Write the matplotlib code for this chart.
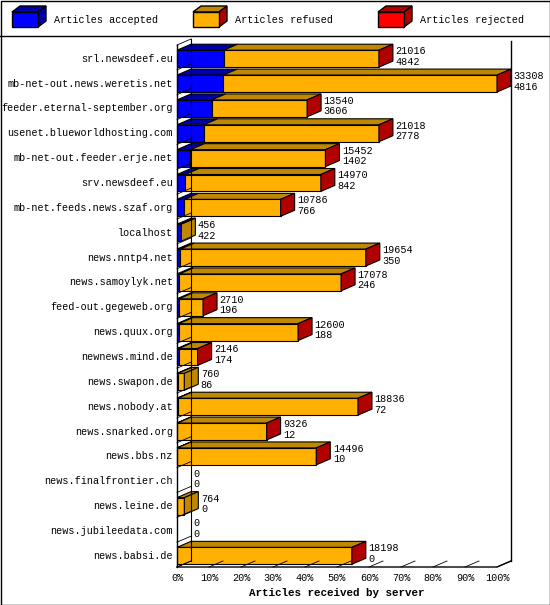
import matplotlib
matplotlib.use("Agg")
import matplotlib.pyplot as plt
from matplotlib.patches import Polygon, Rectangle

servers = ["srl.newsdeef.eu", "mb-net-out.news.weretis.net", "feeder.eternal-september.org",
           "usenet.blueworldhosting.com", "mb-net-out.feeder.erje.net", "srv.newsdeef.eu",
           "mb-net.feeds.news.szaf.org", "localhost", "news.nntp4.net", "news.samoylyk.net",
           "feed-out.gegeweb.org", "news.quux.org", "newnews.mind.de", "news.swapon.de",
           "news.nobody.at", "news.snarked.org", "news.bbs.nz", "news.finalfrontier.ch",
           "news.leine.de", "news.jubileedata.com", "news.babsi.de"]
offered = [21016, 33308, 13540, 21018, 15452, 14970, 10786, 456, 19654, 17078,
           2710, 12600, 2146, 760, 18836, 9326, 14496, 0, 764, 0, 18198]
accepted = [4842, 4816, 3606, 2778, 1402, 842, 766, 422, 350, 246,
            196, 188, 174, 86, 72, 12, 10, 0, 0, 0, 0]
has_rejected = [1, 1, 1, 1, 1, 1, 1, 0, 1, 1, 1, 1, 1, 0, 1, 1, 1, 0, 0, 0, 1]
ticks = list(range(0, 101, 10))

W, H = 550, 605
fig = plt.figure(figsize=(W / 100, H / 100), dpi=100)
fig.patch.set_facecolor("white")
mono = "Liberation Mono"
fs = 7.3

# frame and legend
bg = fig.add_axes([0, 0, 1, 1])
bg.set_xlim(0, W); bg.set_ylim(H, 0); bg.axis("off")
bg.add_patch(Rectangle((0.5, 0.5), W - 1, H - 1, fill=False, lw=1, color="black"))
bg.plot([0, W], [36, 36], color="black", lw=1)

colors = {"acc": ("#0000ff", "#0000a8"), "ref": ("#ffb000", "#c08800"), "rej": ("#ff0000", "#b00000")}
legend = [("acc", "Articles accepted", 12), ("ref", "Articles refused", 193), ("rej", "Articles rejected", 378)]
for key, txt, lx in legend:
    face, dark = colors[key]
    bx, by, bw, bh, d, e = lx, 12, 26, 15, 8, 6
    bg.add_patch(Polygon([(bx, by), (bx + bw, by), (bx + bw + d, by - e), (bx + d, by - e)],
                         fc=dark, ec="black", lw=1))
    bg.add_patch(Polygon([(bx + bw, by), (bx + bw + d, by - e), (bx + bw + d, by + bh - e), (bx + bw, by + bh)],
                         fc="#b00000" if key != "acc" else dark, ec="black", lw=1))
    bg.add_patch(Rectangle((bx, by), bw, bh, fc=face, ec="black", lw=1))
    bg.text(lx + 42, 20, txt, family=mono, fontsize=fs, va="center")

ax = fig.add_axes([177 / W, (H - 567) / H, 320 / W, 522 / H])
n = len(servers)
ax.set_xlim(0, 100)
ax.set_ylim(n - 0.5, -0.5)
ax.axis("off")
dx = 14 / 320 * 100
dy = 6 / (522 / n)

# walls
ax.plot([0, 0], [-0.5, n - 0.5], color="black", lw=1, clip_on=False)
ax.plot([dx, dx], [-0.5 - dy, n - 0.5 - dy], color="black", lw=0.8, clip_on=False)
ax.plot([100 + dx, 100 + dx], [-0.5 - 0.15, n - 0.5 - dy], color="black", lw=1, clip_on=False)
ax.plot([0, 100, 100 + dx], [n - 0.5, n - 0.5, n - 0.5 - dy], color="black", lw=1, clip_on=False)
for i in range(n + 1):
    ax.plot([0, dx], [i - 0.5, i - 0.5 - dy], color="black", lw=0.6, clip_on=False)
for t in ticks:
    ax.plot([t, t + dx], [n - 0.5, n - 0.5 - dy], color="black", lw=0.6, clip_on=False)
    ax.text(t, n - 0.5 + 0.45, f"{t}%", family=mono, fontsize=fs, ha="center", va="center")
ax.text(50, n - 0.5 + 1.05, "Articles received by server", family=mono, fontsize=fs + 0.5,
        weight="bold", ha="center", va="center")

mx = max(offered)
hh = 0.34
for i, name in enumerate(servers):
    y = i + 0.05
    ax.text(-1.3, y, name, family=mono, fontsize=fs, ha="right", va="center")
    a = accepted[i] / mx * 100
    tot = offered[i] / mx * 100
    segs = [(0, a, "acc"), (a, tot, "ref")]
    last = None
    for x0, x1, key in segs:
        if x1 - x0 <= 0:
            continue
        face, dark = colors[key]
        ax.add_patch(Polygon([(x0, y - hh), (x1, y - hh), (x1 + dx, y - hh - dy), (x0 + dx, y - hh - dy)],
                             fc=dark, ec="black", lw=0.8, clip_on=False))
        ax.add_patch(Rectangle((x0, y - hh), x1 - x0, 2 * hh, fc=face, ec="black", lw=0.8, clip_on=False))
        last = key
    if last is not None:
        side = "#b00000" if has_rejected[i] else colors[last][1]
        ax.add_patch(Polygon([(tot, y - hh), (tot + dx, y - hh - dy), (tot + dx, y + hh - dy), (tot, y + hh)],
                             fc=side, ec="black", lw=0.8, clip_on=False))
    ax.text(tot + dx + 0.8, y - 0.3, str(offered[i]), family=mono, fontsize=fs, va="center")
    ax.text(tot + dx + 0.8, y + 0.12, str(accepted[i]), family=mono, fontsize=fs, va="center")

fig.savefig("out.png", dpi=100)
